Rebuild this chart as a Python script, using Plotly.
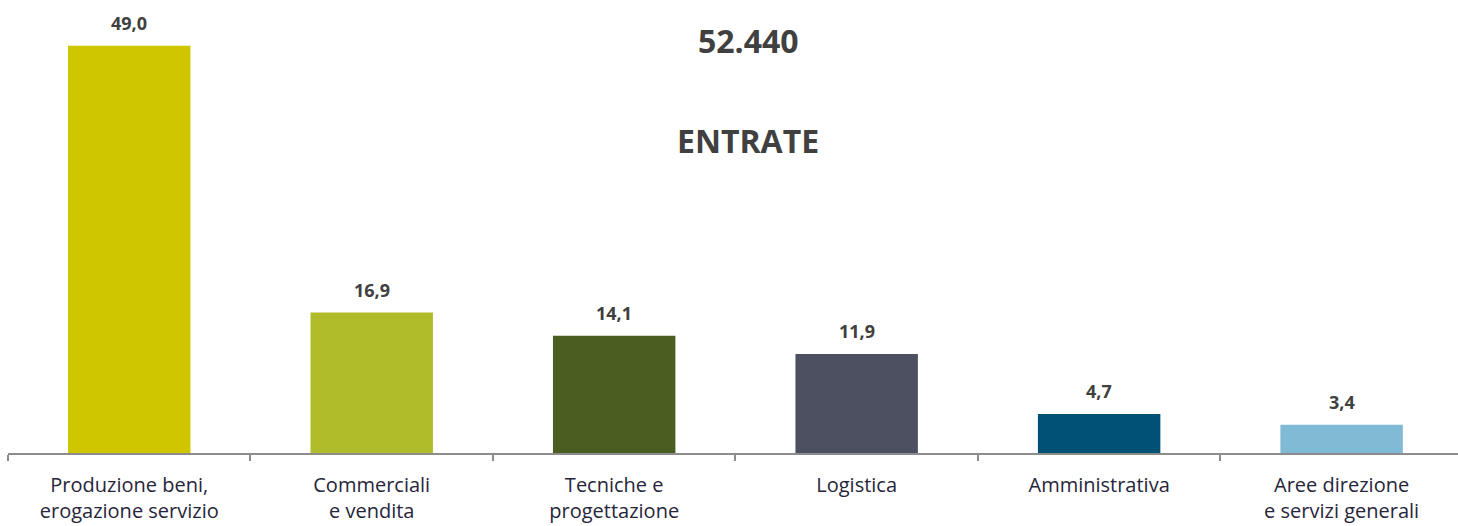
import plotly.graph_objects as go

categories = ["Produzione beni,<br>erogazione servizio", "Commerciali<br>e vendita",
              "Tecniche e<br>progettazione", "Logistica", "Amministrativa",
              "Aree direzione<br>e servizi generali"]
values = [49.0, 16.9, 14.1, 11.9, 4.7, 3.4]
value_labels = ["49,0", "16,9", "14,1", "11,9", "4,7", "3,4"]
colors = ["#CFC600", "#B1BC2A", "#4A5E22", "#4D5060", "#005173", "#80BBD6"]
total_label = "52.440"
subtitle = "ENTRATE"

W, H = 1458, 526
M_L, M_R, M_T, M_B = 8, 0, 20, 73

fig = go.Figure(go.Bar(
    x=categories, y=values, marker=dict(color=colors, line=dict(width=0)),
    width=0.505, cliponaxis=False, hoverinfo="skip"))

for cat, val, lab in zip(categories, values, value_labels):
    fig.add_annotation(x=cat, y=val, text="<b>" + lab + "</b>", showarrow=False,
                       xanchor="center", yanchor="middle", yshift=23,
                       font=dict(family="Open Sans", size=18, color="#404040"))

plot_h = H - M_T - M_B
plot_w = W - M_L - M_R
title_x = (748 - M_L) / plot_w
fig.add_annotation(text="<b>" + total_label + "</b>", xref="paper", yref="paper",
                   x=title_x, y=(H - M_B - 41) / plot_h, showarrow=False,
                   xanchor="center", yanchor="middle",
                   font=dict(family="Open Sans", size=32, color="#404040"))
fig.add_annotation(text="<b>" + subtitle + "</b>", xref="paper", yref="paper",
                   x=title_x, y=(H - M_B - 140) / plot_h, showarrow=False,
                   xanchor="center", yanchor="middle",
                   font=dict(family="Open Sans", size=32, color="#404040"))

fig.update_layout(
    width=W, height=H,
    margin=dict(l=M_L, r=M_R, t=M_T, b=M_B),
    paper_bgcolor="white", plot_bgcolor="white",
    showlegend=False,
    xaxis=dict(showline=True, linecolor="#8C8C8C", linewidth=2,
               range=[-0.5, 5.48],
               ticks="outside", tickson="boundaries", ticklen=6, tickwidth=1.5,
               tickcolor="#8C8C8C", ticklabelstandoff=13,
               tickfont=dict(family="Open Sans", size=20, color="#26263A"),
               showgrid=False, fixedrange=True),
    yaxis=dict(range=[0, 52.1], visible=False, showgrid=False, zeroline=False,
               fixedrange=True),
)

fig.write_html("out.html", config={"displayModeBar": False},
               post_script="document.body.style.margin='0';")
